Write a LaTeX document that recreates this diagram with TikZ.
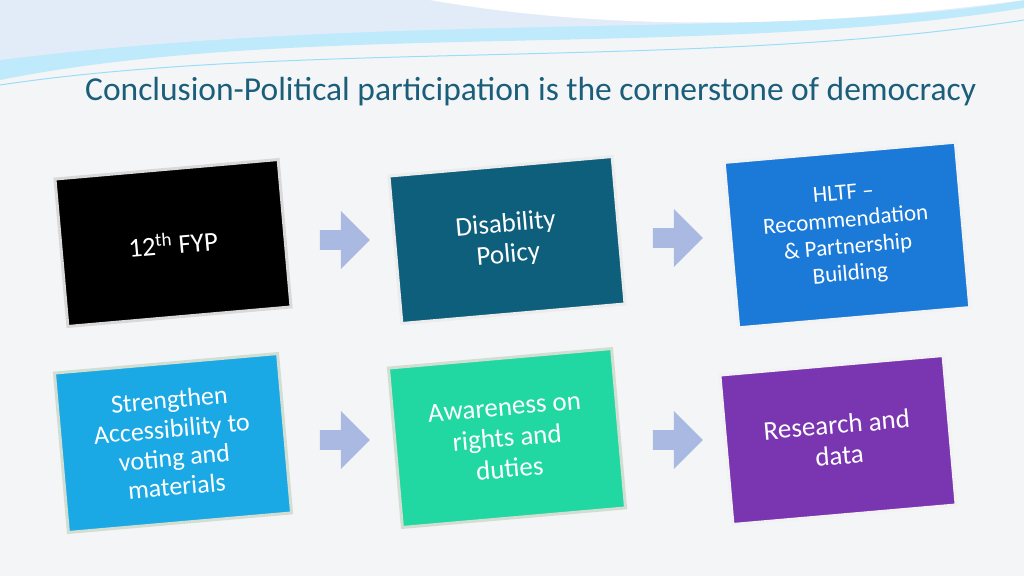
\documentclass[tikz,border=0pt]{standalone}
\usepackage{fontspec}
\setmainfont{Carlito}
\usetikzlibrary{shapes.arrows}
\begin{document}
\begin{tikzpicture}[x=1pt,y=-1pt,
  card/.style={draw=#1!40!white, line width=3pt, minimum width=224pt, minimum height=148pt, rotate=5, align=center, text=white, font=\fontsize{27}{31}\selectfont, inner sep=4pt},
  flow/.style={single arrow, fill=arrowc, draw=none, minimum width=58pt, single arrow head extend=10pt, minimum height=50pt, inner sep=5pt}]
\definecolor{bgc}{HTML}{F4F5F7}
\definecolor{titlec}{HTML}{1B5E7A}
\definecolor{arrowc}{HTML}{A9B9E2}
\definecolor{c1}{HTML}{000000}
\definecolor{c2}{HTML}{0E5F7C}
\definecolor{c3}{HTML}{1B79D8}
\definecolor{c4}{HTML}{1BA9E6}
\definecolor{c5}{HTML}{21D8A2}
\definecolor{c6}{HTML}{7A36B1}
\useasboundingbox (0,0) rectangle (1024,576);
\fill[bgc] (0,0) rectangle (1024,576);
% top waves
\fill[cyan!25!white] (0,0) -- (1024,0) -- (1024,8) .. controls (700,60) and (300,20) .. (0,80) -- cycle;
\fill[cyan!45!white!80!blue!20] (0,0) -- (1024,0) .. controls (800,40) and (400,10) .. (0,60) -- cycle;
\fill[white] (430,0) .. controls (600,30) and (800,30) .. (1024,0) -- cycle;
\draw[cyan!40!white, line width=1pt] (0,85) .. controls (300,40) and (700,70) .. (1024,20);
\node[text=titlec, font=\fontsize{33.5}{36}\selectfont, anchor=west, inner sep=0pt] (title) at (85,92) {Conclusion-Political participation is the cornerstone of democracy};
\node[card=gray, fill=c1, draw=gray!30] (b1) at (173,243) {12\textsuperscript{th} FYP};
\node[card=gray, fill=c2, draw=gray!15] (b2) at (507,240) {Disability\\Policy};
\node[card=gray, fill=c3, draw=gray!10, minimum width=232pt, minimum height=166pt, font=\fontsize{23}{27}\selectfont] (b3) at (847,235) {HLTF --\\Recommendation\\\& Partnership\\Building};
\node[card=gray, fill=c4, draw=green!15!gray!30, minimum height=160pt, font=\fontsize{26}{29}\selectfont] (b4) at (173,443) {Strengthen\\Accessibility to\\voting and\\materials};
\node[card=gray, fill=c5, draw=green!15!gray!30, minimum height=160pt] (b5) at (507,438) {Awareness on\\rights and\\duties};
\node[card=gray, fill=c6, draw=gray!10, minimum height=150pt] (b6) at (838,440) {Research and\\data};
\node[flow] (a1) at (340,240) {};
\node[flow] (a2) at (673,238) {};
\node[flow] (a3) at (340,440) {};
\node[flow] (a4) at (673,440) {};
\end{tikzpicture}
\end{document}
